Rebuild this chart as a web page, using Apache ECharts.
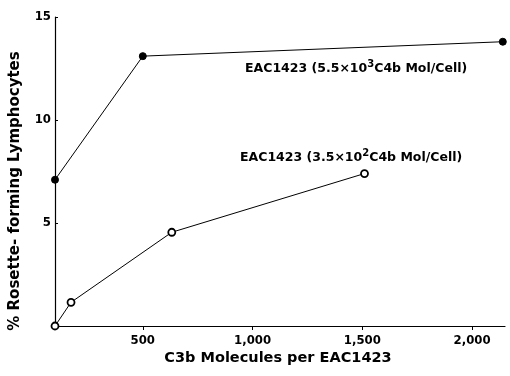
<!DOCTYPE html>
<html><head><meta charset="utf-8">
<script src="https://cdn.jsdelivr.net/npm/echarts@6/dist/echarts.min.js"></script>
<style>html,body{margin:0;padding:0;background:#fff}#c{width:510px;height:376px}</style>
</head><body><div id="c"></div>
<script>
const highC4bX = [100, 500, 2140];
const highC4bY = [7.1, 13.1, 13.8];
const lowC4bX = [100, 173, 632, 1510];
const lowC4bY = [0, 1.15, 4.55, 7.4];
const xTickValues = [500, 1000, 1500, 2000];
const xTickLabels = {500: '500', 1000: '1,000', 1500: '1,500', 2000: '2,000'};
const yTickLabels = {5: '5', 10: '10', 15: '15'};

const FONT = 'DejaVu Sans Condensed';
const chart = echarts.init(document.getElementById('c'));
const pair = (xs, ys) => xs.map((x, i) => [x, ys[i]]);
const rich = {
  a: {fill: '#000', font: 'bold 12.5px "DejaVu Sans"', verticalAlign: 'bottom', lineHeight: 16},
  s: {fill: '#000', font: 'bold 10px "DejaVu Sans"', verticalAlign: 'top', lineHeight: 16, padding: [0, 0, 6, 0]}
};
chart.setOption({
  animation: false,
  backgroundColor: '#fff',
  grid: {left: 55, right: 5, top: 17, bottom: 50},
  xAxis: {
    type: 'value', min: 100, max: 2150,
    axisLine: {lineStyle: {color: '#000', width: 1.2}},
    axisTick: {show: true, length: 4, customValues: xTickValues, lineStyle: {color: '#000'}},
    splitLine: {show: false},
    axisLabel: {customValues: xTickValues, formatter: v => xTickLabels[v] || '',
      color: '#000', fontFamily: FONT, fontWeight: 'bold', fontSize: 13, margin: 8}
  },
  yAxis: {
    type: 'value', min: 0, max: 15, interval: 5,
    axisLine: {show: true, lineStyle: {color: '#000', width: 1.2}},
    axisTick: {show: true, length: 3, inside: true, lineStyle: {color: '#000'}},
    splitLine: {show: false},
    axisLabel: {formatter: v => yTickLabels[v] || '', color: '#000',
      fontFamily: FONT, fontWeight: 'bold', fontSize: 13, margin: 4}
  },
  graphic: [
    {type: 'text', x: 278, y: 358, style: {text: 'C3b Molecules per EAC1423',
      fill: '#000', font: 'bold 14.5px "DejaVu Sans"', align: 'center', verticalAlign: 'middle'}},
    {type: 'text', x: 8, y: 191, rotation: Math.PI / 2, style: {text: '% Rosette- forming Lymphocytes',
      fill: '#000', font: 'bold 15px "DejaVu Sans"', align: 'center', verticalAlign: 'top'}},
    {type: 'text', x: 245, y: 59, style: {text: '{a|EAC1423 (5.5×10}{s|3}{a|C4b Mol/Cell)}', rich: rich}},
    {type: 'text', x: 240, y: 148, style: {text: '{a|EAC1423 (3.5×10}{s|2}{a|C4b Mol/Cell)}', rich: rich}}
  ],
  series: [
    {type: 'line', data: pair(highC4bX, highC4bY), symbol: 'circle', symbolSize: 7,
      lineStyle: {color: '#000', width: 1}, itemStyle: {color: '#000', borderColor: '#000'}},
    {type: 'line', data: pair(lowC4bX, lowC4bY), symbol: 'circle', symbolSize: 7, showAllSymbol: true,
      lineStyle: {color: '#000', width: 1}, itemStyle: {color: '#fff', borderColor: '#000', borderWidth: 1.8}}
  ]
});
</script></body></html>
